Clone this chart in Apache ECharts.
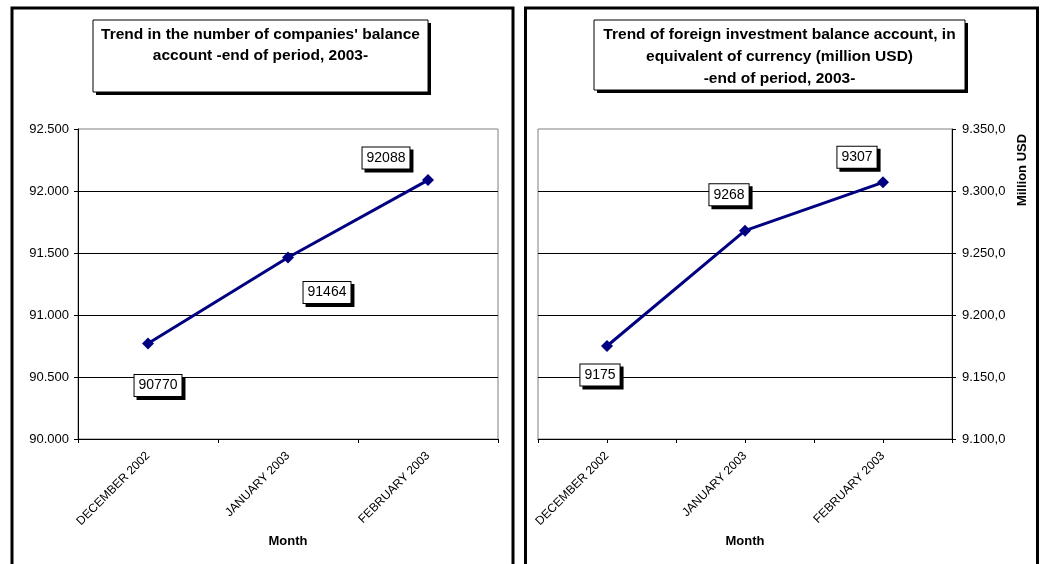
<!DOCTYPE html>
<html>
<head>
<meta charset="utf-8">
<script src="https://cdn.jsdelivr.net/npm/echarts@6/dist/echarts.min.js"></script>
<style>
html,body{margin:0;padding:0;background:#fff;}
#main{width:1042px;height:564px;}
</style>
</head>
<body>
<div id="main"></div>
<script>
// ---- data ----
const categories = ['DECEMBER 2002', 'JANUARY 2003', 'FEBRUARY 2003'];
const companies = [90770, 91464, 92088];
const investment = [9175, 9268, 9307];
const leftTicks = { min: 90000, max: 92500, step: 500 };
const rightTicks = { min: 9100, max: 9350, step: 50 };
const leftTitle = "Trend in the number of companies' balance\naccount -end of period, 2003-";
const rightTitle = "Trend of foreign investment balance account, in\nequivalent of currency (million USD)\n-end of period, 2003-";
const xName = 'Month';
const rightYName = 'Million USD';

// ---- helpers ----
function fmt(v, dec) {
  const parts = v.toFixed(dec).split('.');
  const intPart = parts[0].replace(/\B(?=(\d{3})+(?!\d))/g, '.');
  return dec > 0 ? intPart + ',' + parts[1] : intPart;
}
const FONT = 'Liberation Sans, Arial, sans-serif';
const NAVY = '#000080';
const labelBox = {
  show: true, position: 'inside', color: '#000', fontSize: 14, fontFamily: FONT,
  backgroundColor: '#fff', borderColor: '#000', borderWidth: 1, padding: [4, 4, 3, 4],
  shadowColor: '#000', shadowOffsetX: 3, shadowOffsetY: 3, shadowBlur: 0
};
const leftOffsets = [[10, 42], [39, 35], [-42, -22]];
const rightOffsets = [[-7, 29], [-16, -36], [-26, -25]];

const axisLineStyle = { onZero: false, lineStyle: { color: '#000', width: 1 } };

const chart = echarts.init(document.getElementById('main'), null, { renderer: 'canvas' });

function titleBox(x, y, w, h, text, lh) {
  return [
    { type: 'rect', shape: { x: x + 3, y: y + 3, width: w, height: h }, style: { fill: '#000' }, z: 10 },
    { type: 'rect', shape: { x: x, y: y, width: w, height: h }, style: { fill: '#fff', stroke: '#000', lineWidth: 1 }, z: 11 },
    { type: 'text', x: x + w / 2, y: y + 4, z: 12,
      style: { text: text, fill: '#000', font: 'bold 15.5px ' + FONT, align: 'center', verticalAlign: 'top', lineHeight: lh } }
  ];
}

const catLabel = { rotate: 45, interval: 0, fontSize: 12, fontFamily: FONT, color: '#000', margin: 15 };
const nameStyle = { fontWeight: 'bold', fontSize: 13, fontFamily: FONT, color: '#000' };

const option = {
  backgroundColor: '#fff',
  animation: false,
  grid: [
    { left: 78, top: 129, width: 420, height: 310, show: true, borderColor: '#808080', borderWidth: 1, backgroundColor: 'transparent' },
    { left: 538, top: 129, width: 414, height: 310, show: true, borderColor: '#808080', borderWidth: 1, backgroundColor: 'transparent' }
  ],
  xAxis: [
    {
      gridIndex: 0, type: 'category', data: categories, boundaryGap: true,
      axisLine: axisLineStyle,
      axisTick: { show: true, length: 4, interval: 0, lineStyle: { color: '#000' } },
      axisLabel: catLabel,
      splitLine: { show: false },
      name: xName, nameLocation: 'middle', nameGap: 95, nameTextStyle: nameStyle
    },
    {
      gridIndex: 1, type: 'value', min: -0.5, max: 2.5, interval: 0.5,
      axisLine: axisLineStyle,
      axisTick: { show: true, length: 4, lineStyle: { color: '#000' } },
      axisLabel: Object.assign({}, catLabel, {
        showMinLabel: true, showMaxLabel: true,
        formatter: v => (Math.abs(v - Math.round(v)) < 1e-9 && v >= 0 && v < categories.length) ? categories[Math.round(v)] : ''
      }),
      splitLine: { show: false },
      name: xName, nameLocation: 'middle', nameGap: 95, nameTextStyle: nameStyle
    }
  ],
  yAxis: [
    {
      gridIndex: 0, type: 'value', position: 'left',
      min: leftTicks.min, max: leftTicks.max, interval: leftTicks.step,
      axisLine: Object.assign({ show: true }, axisLineStyle),
      axisTick: { show: true, length: 4, lineStyle: { color: '#000' } },
      axisLabel: { fontSize: 13, fontFamily: FONT, color: '#000', margin: 9, formatter: v => fmt(v, 0) },
      splitLine: { show: true, showMinLine: false, showMaxLine: false, lineStyle: { color: '#000', width: 1 } }
    },
    {
      gridIndex: 1, type: 'value', position: 'right',
      min: rightTicks.min, max: rightTicks.max, interval: rightTicks.step,
      axisLine: Object.assign({ show: true }, axisLineStyle),
      axisTick: { show: true, length: 4, lineStyle: { color: '#000' } },
      axisLabel: { fontSize: 13, fontFamily: FONT, color: '#000', margin: 10, formatter: v => fmt(v, 1) },
      splitLine: { show: true, showMinLine: false, showMaxLine: false, lineStyle: { color: '#000', width: 1 } }
    }
  ],
  series: [
    {
      type: 'line', xAxisIndex: 0, yAxisIndex: 0,
      data: companies.map((v, i) => ({ value: v, label: { offset: leftOffsets[i] } })),
      symbol: 'diamond', symbolSize: 12,
      lineStyle: { color: NAVY, width: 3 }, itemStyle: { color: NAVY },
      label: Object.assign({}, labelBox, { formatter: p => String(p.value) }),
      emphasis: { disabled: true }, z: 5
    },
    {
      type: 'line', xAxisIndex: 1, yAxisIndex: 1,
      data: investment.map((v, i) => ({ value: [i, v], label: { offset: rightOffsets[i] } })),
      symbol: 'diamond', symbolSize: 12,
      lineStyle: { color: NAVY, width: 3 }, itemStyle: { color: NAVY },
      label: Object.assign({}, labelBox, { formatter: p => String(p.value[1]) }),
      emphasis: { disabled: true }, z: 5
    }
  ],
  graphic: {
    elements: [
      { type: 'rect', shape: { x: 12, y: 8, width: 501, height: 600 }, style: { fill: 'none', stroke: '#000', lineWidth: 3 }, z: 20 },
      { type: 'rect', shape: { x: 525.5, y: 8, width: 512, height: 600 }, style: { fill: 'none', stroke: '#000', lineWidth: 3 }, z: 20 },
      ...titleBox(93, 20, 335, 72, leftTitle, 21),
      ...titleBox(594, 20, 371, 70, rightTitle, 22),
      { type: 'text', x: 1022, y: 170, rotation: Math.PI / 2, z: 12,
        style: { text: rightYName, fill: '#000', font: 'bold 13px ' + FONT, align: 'center', verticalAlign: 'middle' } }
    ]
  }
};
chart.setOption(option);
</script>
</body>
</html>
